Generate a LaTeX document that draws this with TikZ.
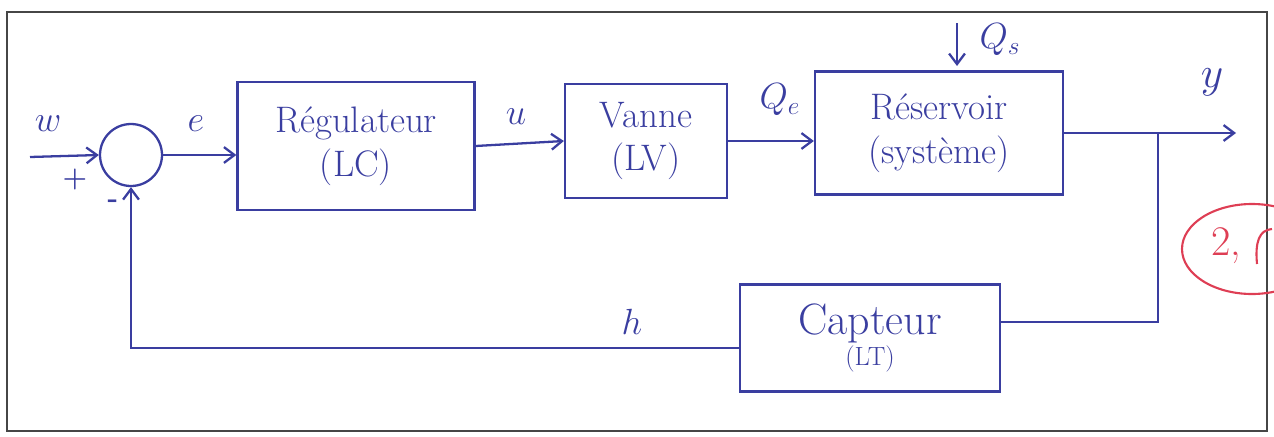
\documentclass[tikz,border=0pt]{standalone}
\usetikzlibrary{arrows.meta,calc}
\definecolor{ink}{RGB}{58,62,160}
\definecolor{redink}{RGB}{222,62,84}
\definecolor{framec}{RGB}{70,70,70}
\tikzset{
  ink/.style={draw=ink,line width=1.3pt},
  flow/.style={ink,-{Straight Barb[length=6pt,width=9pt,line width=1.3pt]}},
  blockbox/.style={ink,text=ink,align=center,font=\fontsize{21}{25}\selectfont,inner sep=0pt},
  lbl/.style={text=ink,font=\fontsize{22}{26}\selectfont,inner sep=0pt},
  sign/.style={text=ink,font=\fontsize{16}{18}\selectfont\bfseries,inner sep=0pt}
}
\begin{document}
\begin{tikzpicture}[x=0.02cm,y=-0.02cm]
\useasboundingbox (0,0) rectangle (1274,436);
\begin{scope}
\clip (0,0) rectangle (1274,436);

% outer frame
\draw[framec,line width=1.1pt] (7,12) -- (1267,12) -- (1267,431) -- (7,431) -- cycle;

% summing junction
\node[ink,circle,minimum size=1.24cm,inner sep=0pt] (sum) at (131,155) {};

% blocks
\node[blockbox,minimum width=4.74cm,minimum height=2.56cm] (reg) at (356,146) {Régulateur\\(LC)};
\node[blockbox,minimum width=3.24cm,minimum height=2.28cm] (van) at (646,141) {Vanne\\(LV)};
\node[blockbox,minimum width=4.96cm,minimum height=2.46cm] (res) at (939,133) {Réservoir\\(système)};
\node[blockbox,minimum width=5.2cm,minimum height=2.14cm,font=\fontsize{25}{22}\selectfont] (cap) at (870,338) {Capteur\\[-4pt]{\fontsize{15}{16}\selectfont(LT)}};

% free ends
\coordinate (win) at (30,157);
\coordinate (yout) at (1236,133);
\coordinate (br) at (1158,133);
\coordinate (qstop) at (957,23);
\coordinate (qsend) at (957,66);

% forward path
\draw[flow] (win) -- (sum.west);
\draw[flow] (sum.east) -- (sum.east -| reg.west);
\draw[flow] (reg.east) -- (van.west);
\draw[flow] (van.east) -- (van.east -| res.west);
\draw[flow] (res.east) -- (yout);
\draw[flow] (qstop) -- (qsend);

% feedback path
\draw[ink] (br) |- ($(cap.east)+(0,-16)$);
\draw[flow] ($(cap.west)+(0,10)$) -| (sum.south);

% signal labels
\node[lbl] (lw) at (48,124) {$w$};
\node[lbl] (le) at (196,124) {$e$};
\node[sign] (lp) at (75,179) {+};
\node[sign] (lm) at (113,204) {-};
\node[lbl] (lu) at (516,117) {$u$};
\node[lbl] (lqe) at (780,100) {$Q_e$};
\node[lbl] (lqs) at (1000,40) {$Q_s$};
\node[lbl,font=\fontsize{34}{38}\selectfont] (ly) at (1212,82) {$y$};
\node[lbl] (lh) at (632,322) {$h$};

% red mark in the margin
\draw[redink,line width=1.2pt] (1252,249) ellipse [x radius=70,y radius=45];
\node[text=redink,font=\fontsize{24}{28}\selectfont,inner sep=0pt] (mark) at (1226,246) {2,};
\draw[redink,line width=1.2pt] (1257,264) .. controls (1255,242) and (1259,230) .. (1272,229);
\end{scope}
\end{tikzpicture}
\end{document}
